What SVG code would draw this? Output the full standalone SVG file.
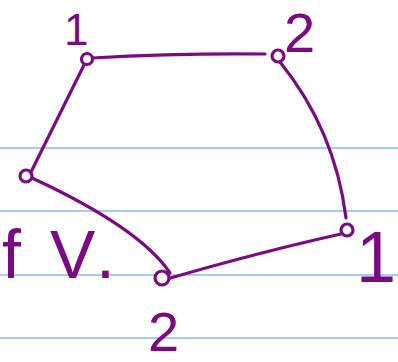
<svg xmlns="http://www.w3.org/2000/svg" width="398" height="362" viewBox="0 0 398 362">
<style>
.rule{stroke:#a3cdf7;stroke-width:2}
.edge{fill:none;stroke:#7b0a82;stroke-width:3.2;stroke-linecap:round}
.node{fill:#ffffff;stroke:#7b0a82;stroke-width:3.2}
.lbl{fill:#7b0a82;font-family:"Liberation Sans",Arial,sans-serif}
</style>
<rect width="398" height="362" fill="#ffffff"/>
<g id="rules">
<line class="rule" x1="0" y1="148" x2="398" y2="148"/>
<line class="rule" x1="0" y1="211" x2="398" y2="211"/>
<line class="rule" x1="0" y1="275" x2="398" y2="275"/>
<line class="rule" x1="0" y1="338" x2="398" y2="338"/>
</g>
<g id="connectors">
<path class="edge" d="M92 58 Q180 53 265 54"/>
<path class="edge" d="M85 63 L30 174"/>
<path class="edge" d="M280 62 Q335 130 346 218"/>
<path class="edge" d="M32 178 Q140 228 170 273"/>
<path class="edge" d="M167 279 Q260 252 341 234"/>
</g>
<g id="node-1">
<circle class="node" cx="87" cy="59" r="5.5"/>
<text class="lbl" x="64" y="45" font-size="44">1</text>
</g>
<g id="node-2">
<circle class="node" cx="278" cy="56" r="6"/>
<text class="lbl" x="284" y="52" font-size="56">2</text>
</g>
<g id="node-3">
<circle class="node" cx="26" cy="176" r="6"/>
</g>
<g id="node-4">
<circle class="node" cx="162" cy="278" r="7"/>
<text class="lbl" x="148" y="351" font-size="56">2</text>
</g>
<g id="node-5">
<circle class="node" cx="347" cy="230" r="6"/>
<text class="lbl" x="356" y="282" font-size="72">1</text>
</g>
<g id="label-fv">
<text class="lbl" y="278" font-size="68"><tspan x="2">f</tspan><tspan x="50">V</tspan><tspan x="96">.</tspan></text>
</g>
</svg>
